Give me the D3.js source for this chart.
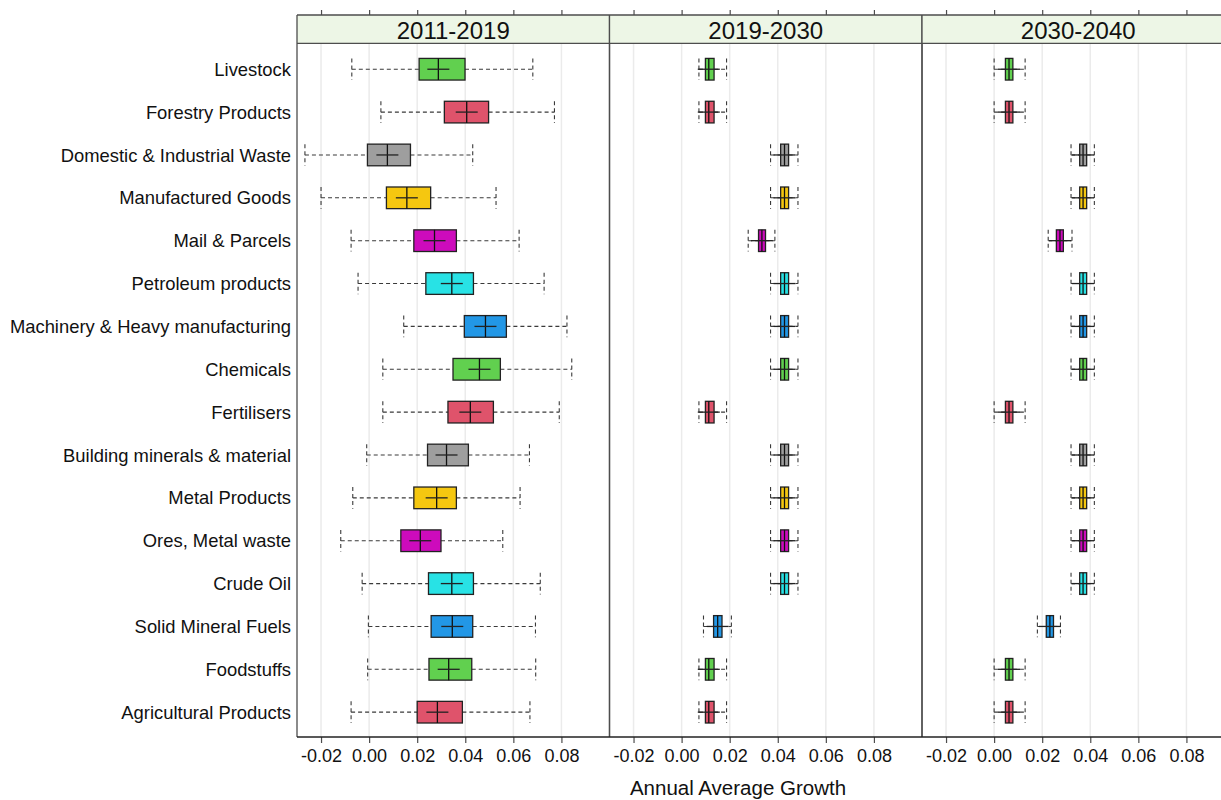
<!DOCTYPE html>
<html>
<head>
<meta charset="utf-8">
<script src="https://cdn.jsdelivr.net/npm/d3@7"></script>
<style>
  html, body { margin: 0; padding: 0; background: #fff; }
  svg { display: block; font-family: "Liberation Sans", Arial, sans-serif; }
</style>
</head>
<body>
<svg id="chart" width="1221" height="800"></svg>
<script>
// Freight commodity groups, top to bottom
const categories = [
  "Livestock", "Forestry Products", "Domestic & Industrial Waste", "Manufactured Goods",
  "Mail & Parcels", "Petroleum products", "Machinery & Heavy manufacturing", "Chemicals",
  "Fertilisers", "Building minerals & material", "Metal Products", "Ores, Metal waste",
  "Crude Oil", "Solid Mineral Fuels", "Foodstuffs", "Agricultural Products"
];

const periods = ["2011-2019", "2019-2030", "2030-2040"];

const boxColors = [
  "#61D04F", "#DF536B", "#9E9E9E", "#F5C710", "#CD0BBC", "#28E2E5", "#2297E6", "#61D04F",
  "#DF536B", "#9E9E9E", "#F5C710", "#CD0BBC", "#28E2E5", "#2297E6", "#61D04F", "#DF536B"
];

// [lower whisker, Q1, median, Q3, upper whisker] per category
const growth2011 = [
  [-0.0072, 0.0208, 0.0288, 0.0399, 0.0681],
  [ 0.0049, 0.0313, 0.0406, 0.0497, 0.0771],
  [-0.0267, -0.0007, 0.0076, 0.0172, 0.0431],
  [-0.0200, 0.0072, 0.0157, 0.0256, 0.0528],
  [-0.0075, 0.0186, 0.0272, 0.0363, 0.0624],
  [-0.0046, 0.0236, 0.0344, 0.0434, 0.0728],
  [ 0.0144, 0.0396, 0.0484, 0.0571, 0.0823],
  [ 0.0057, 0.0349, 0.0459, 0.0546, 0.0843],
  [ 0.0057, 0.0328, 0.0421, 0.0517, 0.0791],
  [-0.0010, 0.0243, 0.0322, 0.0413, 0.0667],
  [-0.0068, 0.0186, 0.0281, 0.0363, 0.0628],
  [-0.0118, 0.0132, 0.0213, 0.0299, 0.0556],
  [-0.0029, 0.0247, 0.0344, 0.0434, 0.0712],
  [-0.0003, 0.0258, 0.0346, 0.0431, 0.0692],
  [-0.0006, 0.0249, 0.0331, 0.0427, 0.0693],
  [-0.0075, 0.0200, 0.0284, 0.0388, 0.0669]
];

const growth2019 = [
  [0.0072, 0.0099, 0.0113, 0.0135, 0.0187],
  [0.0072, 0.0099, 0.0113, 0.0135, 0.0187],
  [0.0370, 0.0412, 0.0428, 0.0445, 0.0484],
  [0.0370, 0.0412, 0.0428, 0.0445, 0.0484],
  [0.0277, 0.0320, 0.0334, 0.0349, 0.0388],
  [0.0370, 0.0412, 0.0428, 0.0445, 0.0484],
  [0.0370, 0.0412, 0.0428, 0.0445, 0.0484],
  [0.0370, 0.0412, 0.0428, 0.0445, 0.0484],
  [0.0072, 0.0099, 0.0113, 0.0135, 0.0187],
  [0.0370, 0.0412, 0.0428, 0.0445, 0.0484],
  [0.0370, 0.0412, 0.0428, 0.0445, 0.0484],
  [0.0370, 0.0412, 0.0428, 0.0445, 0.0484],
  [0.0370, 0.0412, 0.0428, 0.0445, 0.0484],
  [0.0091, 0.0133, 0.0150, 0.0168, 0.0207],
  [0.0072, 0.0099, 0.0113, 0.0135, 0.0187],
  [0.0072, 0.0099, 0.0113, 0.0135, 0.0187]
];

const growth2030 = [
  [0.0000, 0.0047, 0.0062, 0.0078, 0.0129],
  [0.0000, 0.0047, 0.0062, 0.0078, 0.0129],
  [0.0320, 0.0356, 0.0370, 0.0385, 0.0417],
  [0.0320, 0.0356, 0.0370, 0.0385, 0.0417],
  [0.0225, 0.0259, 0.0274, 0.0288, 0.0324],
  [0.0320, 0.0356, 0.0370, 0.0385, 0.0417],
  [0.0320, 0.0356, 0.0370, 0.0385, 0.0417],
  [0.0320, 0.0356, 0.0370, 0.0385, 0.0417],
  [0.0000, 0.0047, 0.0062, 0.0078, 0.0129],
  [0.0320, 0.0356, 0.0370, 0.0385, 0.0417],
  [0.0320, 0.0356, 0.0370, 0.0385, 0.0417],
  [0.0320, 0.0356, 0.0370, 0.0385, 0.0417],
  [0.0320, 0.0356, 0.0370, 0.0385, 0.0417],
  [0.0180, 0.0217, 0.0232, 0.0247, 0.0276],
  [0.0000, 0.0047, 0.0062, 0.0078, 0.0129],
  [0.0000, 0.0047, 0.0062, 0.0078, 0.0129]
];

const xTicks = [-0.02, 0.00, 0.02, 0.04, 0.06, 0.08];
const xDomain = [-0.03, 0.10];
const xTitle = "Annual Average Growth";

const panelData = [growth2011, growth2019, growth2030];

// ---- layout ----
const svg = d3.select("#chart");
const left = 297, panelW = 312.5;
const topLine = 15, stripH = 28.3;
const plotTop = topLine + stripH, plotBottom = 737;
const borderCol = "#4d4d4d";

const y = d3.scaleBand().domain(categories).range([47.8, 733.6]);
const boxH = y.bandwidth() * 0.505;
const crossHalf = 11;

// category labels
svg.append("g").selectAll("text").data(categories).join("text")
  .attr("x", left - 6)
  .attr("y", d => y(d) + y.bandwidth() / 2)
  .attr("dy", "0.36em")
  .attr("text-anchor", "end")
  .attr("font-size", 18.4)
  .attr("fill", "#111")
  .text(d => d);

periods.forEach((period, k) => {
  const x0 = left + k * panelW;
  const x = d3.scaleLinear().domain(xDomain).range([0, panelW]);
  const g = svg.append("g").attr("transform", `translate(${x0},0)`);
  const stats = panelData[k];

  // vertical grid
  g.append("g").selectAll("line").data(xTicks).join("line")
    .attr("x1", d => x(d)).attr("x2", d => x(d))
    .attr("y1", plotTop).attr("y2", plotBottom)
    .attr("stroke", "#ebebeb").attr("stroke-width", 1.5);

  // strip
  g.append("rect")
    .attr("x", 0).attr("y", topLine).attr("width", panelW).attr("height", stripH)
    .attr("fill", "#edf6e6");
  g.append("text")
    .attr("x", panelW / 2).attr("y", topLine + stripH - 4.8)
    .attr("text-anchor", "middle")
    .attr("font-size", 24)
    .attr("fill", "#111")
    .text(period);

  // boxes
  const rows = g.append("g").selectAll("g").data(categories).join("g")
    .attr("transform", d => `translate(0,${y(d) + y.bandwidth() / 2})`);

  rows.each(function (cat, i) {
    const [lo, q1, med, q3, hi] = stats[i];
    const r = d3.select(this);
    const dash = "4,3";
    // whiskers
    r.append("line").attr("x1", x(lo)).attr("x2", x(q1)).attr("y1", 0).attr("y2", 0)
      .attr("stroke", "#3a3a3a").attr("stroke-width", 1.1).attr("stroke-dasharray", dash);
    r.append("line").attr("x1", x(q3)).attr("x2", x(hi)).attr("y1", 0).attr("y2", 0)
      .attr("stroke", "#3a3a3a").attr("stroke-width", 1.1).attr("stroke-dasharray", dash);
    [lo, hi].forEach(v => {
      r.append("line").attr("x1", x(v)).attr("x2", x(v))
        .attr("y1", -boxH / 2).attr("y2", boxH / 2)
        .attr("stroke", "#3a3a3a").attr("stroke-width", 1.1).attr("stroke-dasharray", dash);
    });
    // box
    r.append("rect")
      .attr("x", x(q1)).attr("y", -boxH / 2)
      .attr("width", x(q3) - x(q1)).attr("height", boxH)
      .attr("fill", boxColors[i])
      .attr("stroke", "#222").attr("stroke-width", 1.3);
    // median cross
    r.append("line").attr("x1", x(med)).attr("x2", x(med))
      .attr("y1", -boxH / 2).attr("y2", boxH / 2)
      .attr("stroke", "#111").attr("stroke-width", 1.3);
    r.append("line").attr("x1", x(med) - crossHalf).attr("x2", x(med) + crossHalf)
      .attr("y1", 0).attr("y2", 0)
      .attr("stroke", "#222").attr("stroke-width", 1.3);
  });

  // bottom axis
  const axB = g.append("g").attr("transform", `translate(0,${plotBottom})`)
    .call(d3.axisBottom(x).tickValues(xTicks).tickSize(6).tickSizeOuter(0)
      .tickFormat(d => d.toFixed(2)));
  axB.select(".domain").remove();
  axB.selectAll(".tick line").attr("stroke", borderCol).attr("stroke-width", 1.2);
  axB.selectAll(".tick text").attr("font-size", 18).attr("fill", "#111")
    .attr("font-family", "Liberation Sans, Arial, sans-serif").attr("y", 12);

  // top axis ticks
  const axT = g.append("g").attr("transform", `translate(0,${topLine})`)
    .call(d3.axisTop(x).tickValues(xTicks).tickSize(5).tickSizeOuter(0).tickFormat(""));
  axT.select(".domain").remove();
  axT.selectAll(".tick line").attr("stroke", borderCol).attr("stroke-width", 1.2);

  // panel frame
  g.append("line").attr("x1", 0).attr("x2", 0).attr("y1", topLine).attr("y2", plotBottom)
    .attr("stroke", borderCol).attr("stroke-width", 1.3);
  g.append("line").attr("x1", panelW).attr("x2", panelW).attr("y1", topLine).attr("y2", plotBottom)
    .attr("stroke", borderCol).attr("stroke-width", 1.3);
});

// horizontal frame lines across all panels
const fullRight = left + panelW * periods.length;
[topLine, plotTop].forEach(yy => {
  svg.append("line").attr("x1", left).attr("x2", fullRight).attr("y1", yy).attr("y2", yy)
    .attr("stroke", borderCol).attr("stroke-width", 1.3);
});
svg.append("line").attr("x1", left).attr("x2", fullRight).attr("y1", plotBottom).attr("y2", plotBottom)
  .attr("stroke", "#222").attr("stroke-width", 1.3);

// x-axis title
svg.append("text")
  .attr("x", 738).attr("y", 795)
  .attr("text-anchor", "middle")
  .attr("font-size", 20.5)
  .attr("fill", "#111")
  .text(xTitle);
</script>
</body>
</html>
